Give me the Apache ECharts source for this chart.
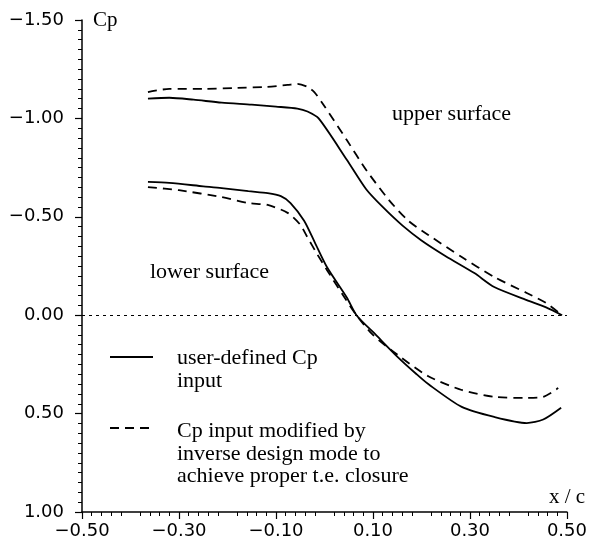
<!DOCTYPE html>
<html>
<head>
<meta charset="utf-8">
<script src="https://cdn.jsdelivr.net/npm/echarts@6/dist/echarts.min.js"></script>
<style>html,body{margin:0;padding:0;background:#fff}#c{width:590px;height:544px}</style>
</head>
<body>
<div id="c"></div>
<script>
// x/c positions and Cp values
var upperSolid = [[-0.364,-1.10],[-0.32,-1.105],[-0.27,-1.095],[-0.212,-1.08],[-0.15,-1.07],[-0.10,-1.06],[-0.056,-1.05],[-0.035,-1.035],[-0.012,-1.0],[0.046,-0.79],[0.086,-0.64],[0.12,-0.55],[0.161,-0.455],[0.2,-0.38],[0.25,-0.30],[0.309,-0.214],[0.35,-0.143],[0.417,-0.077],[0.457,-0.04],[0.49,0.0]];
var upperDashed = [[-0.364,-1.134],[-0.32,-1.15],[-0.25,-1.15],[-0.18,-1.155],[-0.12,-1.16],[-0.076,-1.17],[-0.056,-1.175],[-0.035,-1.16],[-0.021,-1.134],[-0.005,-1.08],[0.046,-0.89],[0.086,-0.738],[0.133,-0.585],[0.173,-0.48],[0.214,-0.408],[0.283,-0.296],[0.35,-0.194],[0.417,-0.113],[0.457,-0.062],[0.49,0.0]];
var lowerSolid = [[-0.364,-0.677],[-0.32,-0.672],[-0.25,-0.655],[-0.212,-0.646],[-0.157,-0.63],[-0.117,-0.62],[-0.09,-0.605],[-0.07,-0.57],[-0.042,-0.48],[-0.02,-0.37],[0.005,-0.245],[0.046,-0.09],[0.066,0.0],[0.106,0.10],[0.15,0.21],[0.19,0.30],[0.214,0.35],[0.283,0.466],[0.35,0.517],[0.417,0.548],[0.451,0.53],[0.488,0.47]];
var lowerDashed = [[-0.364,-0.651],[-0.3,-0.635],[-0.212,-0.60],[-0.157,-0.57],[-0.117,-0.56],[-0.076,-0.52],[-0.05,-0.46],[-0.036,-0.40],[-0.015,-0.31],[0.005,-0.23],[0.036,-0.11],[0.066,0.0],[0.10,0.10],[0.15,0.20],[0.214,0.31],[0.283,0.38],[0.35,0.415],[0.417,0.42],[0.451,0.415],[0.482,0.37]];
var xTickValues = [-0.5,-0.3,-0.1,0.1,0.3,0.5];
var yTickValues = [-1.5,-1.0,-0.5,0.0,0.5,1.0];
var seriesNames = ['user-defined Cp input','Cp input modified by inverse design mode to achieve proper t.e. closure'];

function fmt(v){ var a = Math.abs(v).toFixed(2); return (v < -1e-9 ? '\u2212' : '') + a; }

var chart = echarts.init(document.getElementById('c'), null, {renderer:'canvas'});
var tickFont = {fontFamily:'DejaVu Sans', fontSize:18, color:'#000'};
var serif = 'Liberation Serif';
var solidStyle = {color:'#000', width:1.8, type:'solid'};
var dashStyle = {color:'#000', width:1.8, type:[9,6]};
function lineSeries(name, data, style){
  return {name:name, type:'line', data:data, smooth:0.25, showSymbol:false, symbol:'none', lineStyle:style};
}
var s0 = lineSeries(seriesNames[0]+' (upper surface)', upperSolid, solidStyle);
s0.markLine = {silent:true, symbol:'none', label:{show:false}, lineStyle:{color:'#000', width:1, type:[3,4]}, data:[{yAxis:0}]};

chart.setOption({
  animation:false,
  backgroundColor:'#fff',
  grid:{left:82, right:16, top:20, bottom:32, containLabel:false},
  xAxis:{
    type:'value', min:-0.5, max:0.5, interval:0.1,
    axisLine:{onZero:false, lineStyle:{color:'#000', width:1.5}},
    axisTick:{show:true, length:7, lineStyle:{color:'#000', width:1.2}, customValues:xTickValues},
    minorTick:{show:true, splitNumber:5, length:4, lineStyle:{color:'#000', width:1}},
    axisLabel:Object.assign({margin:10, customValues:xTickValues, formatter:fmt}, tickFont),
    splitLine:{show:false}
  },
  yAxis:{
    type:'value', inverse:true, min:-1.5, max:1.0, interval:0.5,
    axisLine:{show:true, onZero:false, lineStyle:{color:'#000', width:1.5}},
    axisTick:{show:true, length:7, lineStyle:{color:'#000', width:1.2}},
    minorTick:{show:true, splitNumber:10, length:4, lineStyle:{color:'#000', width:1}},
    axisLabel:Object.assign({margin:18, formatter:fmt}, tickFont),
    splitLine:{show:false}
  },
  series:[
    s0,
    lineSeries(seriesNames[0]+' (lower surface)', lowerSolid, solidStyle),
    lineSeries(seriesNames[1]+' (upper surface)', upperDashed, dashStyle),
    lineSeries(seriesNames[1]+' (lower surface)', lowerDashed, dashStyle)
  ],
  graphic:[
    {type:'text', left:93, top:10, style:{text:'Cp', font:'21px "'+serif+'"', fill:'#000'}},
    {type:'text', left:549, top:487, style:{text:'x / c', font:'21px "'+serif+'"', fill:'#000'}},
    {type:'text', left:392, top:103, style:{text:'upper surface', font:'22px "'+serif+'"', fill:'#000'}},
    {type:'text', left:150, top:261, style:{text:'lower surface', font:'22px "'+serif+'"', fill:'#000'}},
    {type:'line', shape:{x1:110, y1:357, x2:153, y2:357}, style:{stroke:'#000', lineWidth:1.8}},
    {type:'line', shape:{x1:110, y1:428, x2:153, y2:428}, style:{stroke:'#000', lineWidth:1.8, lineDash:[9,6]}},
    {type:'text', left:177, top:347, style:{text:'user-defined Cp\ninput', font:'22px "'+serif+'"', lineHeight:23, fill:'#000'}},
    {type:'text', left:177, top:420, style:{text:'Cp input modified by\ninverse design mode to\nachieve proper t.e. closure', font:'22px "'+serif+'"', lineHeight:22.5, fill:'#000'}}
  ]
});
</script>
</body>
</html>
